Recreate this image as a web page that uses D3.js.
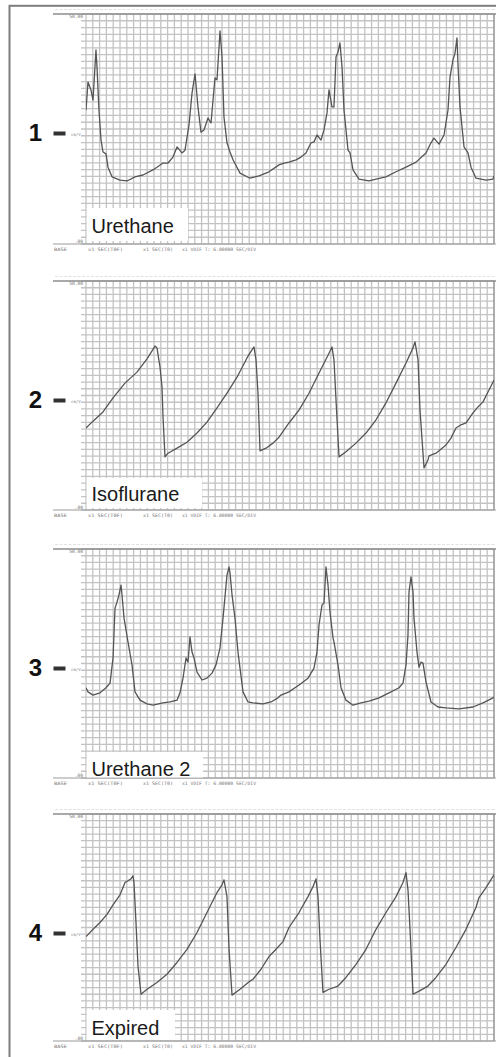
<!DOCTYPE html>
<html><head><meta charset="utf-8">
<script src="https://cdn.jsdelivr.net/npm/d3@7"></script>
<style>html,body{margin:0;padding:0;background:#fff;} svg{display:block;}</style>
</head><body>
<svg id="chart" width="496" height="1057"></svg>
<script>
// ---------------- DATA ----------------
const panelNumbers = ["1", "2", "3", "4"];
const panelLabels = ["Urethane", "Isoflurane", "Urethane 2", "Expired"];
const yDomain = [0, 50];
const xDomain = [0, 72];            // seconds (6 s / division)
const yTopLabel = "50.00";
const yBottomLabel = ".00";
const unitLabel = "cm/V";
const footerLabels = ["BASE", "x1 SEC(T0F)", "x1 SEC(T0)", "x1 VDIF T: 6.00000 SEC/DIV"];

const time1 = [0,0.35,0.88,1.24,1.76,1.94,2.29,2.65,3.0,3.53,3.88,4.59,6.0,7.24,8.65,10.06,11.82,13.59,14.47,15.35,16.06,16.94,17.47,18.18,18.71,19.24,19.76,20.29,20.82,21.53,22.06,22.76,23.12,23.65,24.0,24.35,24.88,25.41,25.94,27.18,28.94,30.53,32.29,34.06,34.94,35.82,37.06,37.94,38.82,39.71,40.24,40.76,41.47,42.0,42.53,42.88,43.41,43.76,44.12,44.47,44.82,45.18,45.53,46.24,46.59,47.12,48.18,49.94,51.18,52.94,54.71,56.47,58.24,60.0,60.88,61.41,62.29,63.18,63.88,64.24,64.76,65.12,65.47,65.65,66.0,66.71,67.41,67.94,68.82,70.59,71.82,72.0];
const value1 = [29.1,35.2,33.5,31.3,42.2,38.5,29.1,22.6,20.0,19.6,16.7,14.6,13.9,13.7,14.6,15.0,16.1,17.6,17.6,18.9,21.1,19.8,20.4,25.9,32.8,37.0,29.8,24.3,24.8,27.4,26.3,36.1,35.7,46.3,40.7,27.6,22.0,20.0,18.3,15.4,14.3,14.8,15.7,17.2,17.6,17.8,18.3,18.9,19.8,22.0,22.2,23.7,22.6,24.8,28.5,33.5,29.8,29.8,40.7,41.7,43.7,38.5,29.1,20.4,19.8,16.1,14.1,13.7,14.1,14.6,15.7,16.7,17.8,19.8,22.0,23.0,21.7,23.7,29.1,36.3,40.0,41.5,44.8,38.9,29.8,21.1,19.8,16.7,14.3,13.9,14.1,14.8];

const time2 = [0,1.24,3.0,4.77,6.88,9.0,10.77,12.18,12.53,13.06,13.41,13.59,13.94,14.47,16.06,17.82,19.59,21.35,23.12,24.88,26.65,28.41,28.94,29.65,30.0,30.35,30.71,31.76,33.0,34.06,35.82,37.59,39.35,41.12,42.71,43.41,43.76,44.12,44.65,45.88,47.65,49.41,51.18,52.94,54.71,56.47,57.71,58.06,58.59,58.94,59.65,60.35,60.53,61.76,63.53,64.41,65.29,66.18,67.06,68.29,69.18,70.06,71.12,72.0];
const value2 = [17.9,19.4,21.4,24.5,27.7,30.1,33.0,35.8,35.4,31.2,26.9,20.3,11.6,12.4,13.5,14.8,16.8,19.2,22.3,25.5,29.0,33.2,34.3,35.6,32.8,25.5,12.9,13.5,14.6,15.9,19.0,21.8,25.5,29.9,33.8,35.6,32.8,24.0,11.6,12.7,14.6,16.8,19.7,23.4,27.7,32.1,35.4,36.7,32.8,21.8,9.2,10.9,11.8,12.4,14.2,15.7,17.9,18.6,19.0,21.2,22.5,23.6,26.2,28.4];

const time3 = [0,0.35,1.24,2.47,3.53,4.24,4.77,5.12,5.47,5.82,6.18,6.35,6.71,7.41,8.12,8.65,9.53,10.77,11.82,13.59,14.82,16.06,16.59,17.12,17.65,18.0,18.35,18.71,19.06,19.59,20.47,21.35,22.24,22.94,23.65,24.18,24.88,25.24,25.41,25.77,26.29,26.82,27.71,28.59,29.47,31.24,32.65,33.88,34.41,35.82,37.59,39.18,40.24,40.76,41.12,41.65,42.0,42.35,42.71,43.06,43.59,43.76,44.47,45.0,45.88,47.12,48.53,49.94,51.71,53.47,55.24,55.94,56.47,56.82,57.0,57.35,57.71,57.88,58.41,58.77,59.12,59.47,60.0,60.88,62.12,63.53,65.82,68.29,70.06,71.82,72.0];
const value3 = [19.7,18.8,18.1,18.6,19.7,20.7,26.2,37.1,38.4,40.0,42.1,40.0,34.9,29.7,24.7,18.8,17.0,16.2,15.9,16.4,16.6,17.0,18.6,21.8,26.2,25.3,30.8,27.5,26.2,23.1,21.4,21.8,22.9,24.7,28.4,34.9,44.3,46.1,44.8,40.0,34.9,27.5,18.8,16.6,16.4,16.2,16.6,17.5,18.1,18.8,20.3,21.8,24.0,27.5,33.4,37.8,38.2,46.1,42.1,36.2,30.6,29.7,24.7,19.7,17.0,15.9,16.4,16.8,17.5,18.6,19.7,20.7,24.7,31.2,40.6,43.9,40.6,34.9,27.5,24.2,25.3,25.1,21.0,16.6,15.5,15.3,15.1,15.5,16.4,17.5,17.7];

const time4 = [0,1.24,2.47,3.71,4.77,6.0,6.53,6.88,7.41,7.94,8.29,8.47,8.82,9.18,9.71,10.77,12.53,14.29,16.06,17.82,19.59,21.35,23.12,24.0,24.35,24.88,25.24,25.77,27.18,28.94,29.47,30.88,32.29,33.53,34.77,35.82,37.59,39.18,40.06,40.59,40.94,41.29,41.82,42.88,44.47,45.88,47.65,49.41,51.18,52.94,54.71,55.94,56.47,56.82,57.18,57.71,58.77,60.35,61.76,63.53,65.29,67.06,68.82,69.35,70.59,72.0];
const value4 = [23.0,24.6,26.1,27.9,30.0,32.2,33.8,34.9,35.3,35.7,36.4,34.9,26.1,16.4,10.3,11.4,12.9,14.7,17.3,20.2,23.9,28.3,32.7,34.4,35.5,31.8,20.2,10.1,11.4,13.2,13.6,15.8,18.6,20.2,21.9,25.0,28.3,31.8,34.0,35.7,31.8,22.4,10.7,11.4,12.1,14.0,16.9,20.2,24.6,28.3,31.8,34.9,37.1,33.3,24.6,10.3,11.0,12.1,14.0,16.9,20.6,24.6,29.4,31.6,33.8,36.6];

const panelTimes = [time1, time2, time3, time4];
const panelValues = [value1, value2, value3, value4];

// ---------------- LAYOUT ----------------
const W = 496, H = 1057;
const gridLeft = 86, gridRight = 494, ruleLeft = 53;
const tops = [14, 281, 549, 814];
const bottoms = [244, 510, 778, 1041];
const nCols = 60, nRows = 34;
const boxes = [
  {right: 188, top: 208, bottom: 241, base: 233},
  {right: 202, top: 478, bottom: 508, base: 500.5},
  {right: 203, top: 752, bottom: 777.5, base: 776},
  {right: 175, top: 1010, bottom: 1040, base: 1035}
];

const svg = d3.select("#chart");
svg.append("rect").attr("width", W).attr("height", H).attr("fill", "#fff");
// outer frame
svg.append("rect").attr("x", 9.5).attr("y", 5.8).attr("width", 600).attr("height", 1100)
  .attr("fill", "none").attr("stroke", "#7d7d7d").attr("stroke-width", 2);

const defs = svg.append("defs");

panelNumbers.forEach((num, i) => {
  const T = tops[i], B = bottoms[i];
  const g = svg.append("g");
  const x = d3.scaleLinear().domain(xDomain).range([gridLeft, gridRight]);
  const y = d3.scaleLinear().domain(yDomain).range([B, T]);
  const col = d3.scaleLinear().domain([0, nCols]).range([gridLeft, gridRight]);
  const row = d3.scaleLinear().domain([0, nRows]).range([B, T]);

  // faint header text row
  g.append("line").attr("x1", ruleLeft + 2).attr("x2", W).attr("y1", T - 4.5).attr("y2", T - 4.5)
    .attr("stroke", "#e2e2e2").attr("stroke-width", 1.2).attr("stroke-dasharray", "3,1.5");

  // grid
  g.append("g").selectAll("line").data(d3.range(0, nRows + 1)).join("line")
    .attr("x1", 81).attr("x2", gridRight).attr("y1", d => row(d)).attr("y2", d => row(d))
    .attr("stroke", "#c3c3c3").attr("stroke-width", 1.3);
  g.append("g").selectAll("line").data(d3.range(0, nCols + 1)).join("line")
    .attr("x1", d => col(d)).attr("x2", d => col(d)).attr("y1", T).attr("y2", B)
    .attr("stroke", d => d === nCols ? "#9a9a9a" : "#c3c3c3").attr("stroke-width", d => d === nCols ? 1.6 : 1.3);

  // header & bottom rules
  g.append("line").attr("x1", ruleLeft).attr("x2", W).attr("y1", T).attr("y2", T)
    .attr("stroke", "#8c8c8c").attr("stroke-width", 1.6);
  g.append("line").attr("x1", ruleLeft).attr("x2", W).attr("y1", B).attr("y2", B)
    .attr("stroke", "#9c9c9c").attr("stroke-width", 1.1);

  // small axis texts
  const tiny = {"font-family": "DejaVu Sans Mono, monospace", "font-size": "4.6px", "fill": "#777"};
  const txt = (sel, s, attrs) => { const t = sel.append("text").text(s); Object.entries(Object.assign({}, tiny, attrs)).forEach(([k, v]) => t.attr(k, v)); return t; };
  txt(g, yTopLabel, {x: 83, y: y(yDomain[1]) + 4, "text-anchor": "end"});
  txt(g, yBottomLabel, {x: 83, y: y(yDomain[0]) - 1.5, "text-anchor": "end"});
  txt(g, footerLabels[0], {x: 54, y: B + 6.5, textLength: 13, lengthAdjust: "spacingAndGlyphs"});
  txt(g, footerLabels[1], {x: 88, y: B + 6.5, textLength: 35, lengthAdjust: "spacingAndGlyphs"});
  txt(g, footerLabels[2], {x: 143, y: B + 6.5, textLength: 30, lengthAdjust: "spacingAndGlyphs"});
  txt(g, footerLabels[3], {x: 182, y: B + 6.5, textLength: 74, lengthAdjust: "spacingAndGlyphs"});

  // panel number + marker
  g.append("text").text(num).attr("x", 35.5).attr("y", T + 127).attr("text-anchor", "middle")
    .attr("font-family", "Liberation Sans, Arial, sans-serif").attr("font-weight", "bold")
    .attr("font-size", "24px").attr("fill", "#111");
  g.append("rect").attr("x", 53.5).attr("y", T + 117.5).attr("width", 12).attr("height", 4).attr("fill", "#333");
  txt(g, unitLabel, {x: 71, y: T + 121.5, "font-size": "4px", fill: "#888"});

  // label box
  const bx = boxes[i];
  g.append("rect").attr("x", gridLeft + 0.7).attr("y", bx.top).attr("width", bx.right - gridLeft - 0.7)
    .attr("height", bx.bottom - bx.top).attr("fill", "#fff");
  g.append("text").text(panelLabels[i]).attr("x", gridLeft + 5.5).attr("y", bx.base)
    .attr("font-family", "Liberation Sans, Arial, sans-serif").attr("font-size", "20px").attr("fill", "#1a1a1a");

  // trace
  const clipId = "clip" + i;
  defs.append("clipPath").attr("id", clipId).append("rect")
    .attr("x", gridLeft).attr("y", T).attr("width", gridRight - gridLeft).attr("height", B - T);
  const pts = panelTimes[i].map((t, k) => ({t: t, v: panelValues[i][k]}));
  g.append("path").datum(pts).attr("clip-path", `url(#${clipId})`)
    .attr("d", d3.line().x(d => x(d.t)).y(d => y(d.v)))
    .attr("fill", "none").attr("stroke", "#555").attr("stroke-width", 1.3).attr("stroke-linejoin", "round");
});
</script>
</body></html>
